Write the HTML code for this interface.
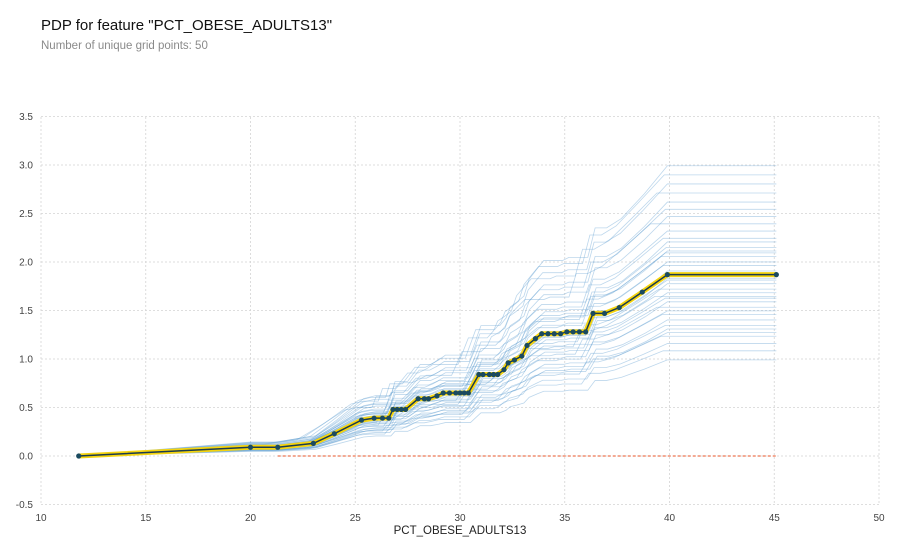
<!DOCTYPE html>
<html><head><meta charset="utf-8"><style>
body{margin:0;background:#fff;font-family:"Liberation Sans",sans-serif}
</style></head><body>
<svg width="903" height="551" xmlns="http://www.w3.org/2000/svg">
<text x="41" y="30" font-size="15" fill="#111">PDP for feature "PCT_OBESE_ADULTS13"</text>
<text x="41" y="49" font-size="11.5" fill="#8a8a8a">Number of unique grid points: 50</text>
<g id="grid"></g><g id="ice"></g><g id="pdp"></g><g id="ticks"></g>
<text x="460" y="534" font-size="11.5" fill="#222" text-anchor="middle">PCT_OBESE_ADULTS13</text>
</svg>
<script>
const gridX=[11.8,20.0,21.3,23.0,24.0,25.3,25.9,26.3,26.6,26.8,27.0,27.2,27.4,28.0,28.3,28.5,28.9,29.2,29.5,29.8,30.0,30.2,30.4,30.9,31.1,31.4,31.6,31.8,32.1,32.3,32.6,32.95,33.2,33.6,33.9,34.2,34.5,34.8,35.1,35.4,35.7,36.0,36.35,36.9,37.6,38.7,39.9,45.1];
const pdpY=[0,0.09,0.09,0.13,0.23,0.37,0.39,0.39,0.39,0.48,0.48,0.48,0.48,0.59,0.59,0.59,0.62,0.65,0.65,0.65,0.65,0.65,0.65,0.84,0.84,0.84,0.84,0.84,0.89,0.96,0.99,1.03,1.14,1.21,1.26,1.26,1.26,1.26,1.28,1.28,1.28,1.28,1.47,1.47,1.53,1.69,1.87,1.87];
const iceFactors=[0.53,0.58,0.62,0.66,0.7,0.72,0.75,0.78,0.8,0.82,0.85,0.87,0.9,0.92,0.95,0.97,1.0,1.02,1.05,1.07,1.1,1.13,1.15,1.18,1.2,1.24,1.28,1.32,1.36,1.4,1.45,1.5,1.55,1.6,0.68,0.88,0.98,1.12];
const iceShift=[0.1,-0.2,0.05,-0.3,0.2,-0.1,0.15,-0.25,0,-0.5,0.15,-0.1,0.1,-0.4,0.2,0,-0.1,0.2,-0.2,0.05,-0.3,0.1,-0.05,0.15,-0.2,0,-0.8,0.1,-0.1,0.1,-0.5,0.05,-0.15,0.1,0,-0.6,0.2,-0.1];
const xTicks=[10,15,20,25,30,35,40,45,50];
const yTicks=[-0.5,0.0,0.5,1.0,1.5,2.0,2.5,3.0,3.5];
const X=v=>41+(v-10)*(838/40), Y=v=>456-v*97;
const NS="http://www.w3.org/2000/svg";
function mk(t,a,p){const e=document.createElementNS(NS,t);for(const k in a)e.setAttribute(k,a[k]);p.appendChild(e);return e;}
const g=document.getElementById('grid'),tk=document.getElementById('ticks');
xTicks.forEach(v=>{const l=mk('line',{x1:X(v),x2:X(v),y1:117,y2:505,stroke:'#d4d4d4','stroke-dasharray':'2,2','stroke-width':0.8},g);


const t=mk('text',{x:X(v),y:521,'font-size':10,fill:'#444','text-anchor':'middle'},tk);t.textContent=v;

});
yTicks.forEach(v=>{const l=mk('line',{x1:41,x2:879,y1:Y(v),y2:Y(v),stroke:'#d4d4d4','stroke-dasharray':'2,2','stroke-width':0.8},g);


const t=mk('text',{x:33,y:Y(v)+3.5,'font-size':10,fill:'#444','text-anchor':'end'},tk);t.textContent=v.toFixed(1);

});
const ice=document.getElementById('ice');
iceFactors.forEach((f,i)=>{const s=iceShift[i];const pts=gridX.map((x,j)=>{const xs=(j<=1||j===gridX.length-1)?x:Math.min(Math.max(x+s,gridX[1]),gridX[gridX.length-2]);return X(xs)+','+Y(pdpY[j]*f);}).join(' ');
const p=mk('polyline',{points:pts,fill:'none',stroke:'#5b9bd0','stroke-width':0.8,'stroke-opacity':0.4},ice);

});
const pd=document.getElementById('pdp');
const z=mk('line',{x1:X(21.3),x2:X(45.1),y1:Y(0),y2:Y(0),stroke:'#e8562a','stroke-dasharray':'3,2','stroke-width':1},pd);


const pts=gridX.map((x,j)=>X(x)+','+Y(pdpY[j])).join(' ');
const y1=mk('polyline',{points:pts,fill:'none',stroke:'#f5d40e','stroke-width':5},pd);


const b=mk('polyline',{points:pts,fill:'none',stroke:'#1a3b4f','stroke-width':1.5},pd);


gridX.forEach((x,j)=>{const c=mk('circle',{cx:X(x),cy:Y(pdpY[j]),r:2.6,fill:'#1a4a5f'},pd);

});
</script>
</body></html>
